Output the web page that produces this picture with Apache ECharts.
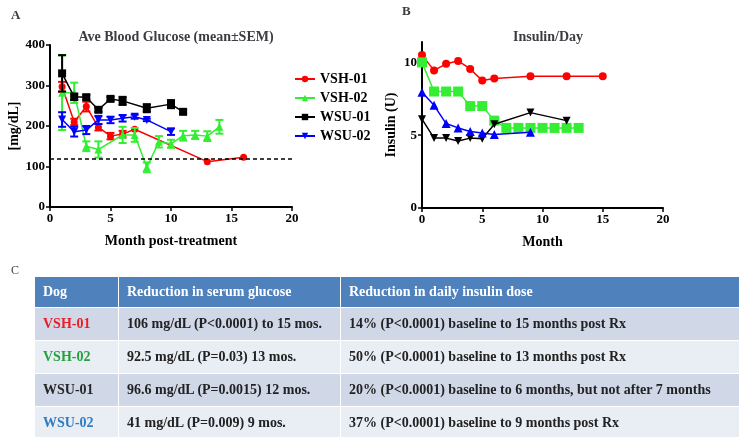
<!DOCTYPE html>
<html>
<head>
<meta charset="UTF-8">
<title>Blood glucose and insulin</title>
<script src="https://cdn.jsdelivr.net/npm/echarts@6/dist/echarts.min.js"></script>
<style>
    body { margin: 0; background: #fff; }
    #wrap { position: relative; width: 740px; height: 437px; overflow: hidden; }
    #chart { position: absolute; left: 0; top: 0; width: 740px; height: 437px; }
    #tbl {
        position: absolute; left: 34px; top: 276px; width: 706px;
        border-collapse: collapse; table-layout: fixed;
        font-family: 'Liberation Serif', 'Times New Roman', serif;
        font-weight: bold; font-size: 14px; color: #222;
    }
    #tbl th, #tbl td { border: 1px solid #fff; padding: 0 0 0 8px; text-align: left; white-space: nowrap; }
    #tbl th { background: #4f81bd; color: #fff; height: 30px; font-weight: bold; }
    #tbl td { height: 32px; }
    #tbl tr.dark td { background: #d0d8e8; }
    #tbl tr.light td { background: #e9edf4; }
</style>
</head>
<body>
<div id="wrap">
    <div id="chart"></div>
    <table id="tbl"></table>
</div>
<script>
    // ---- panel A: blood glucose (mean ± SEM) ----
    const vsh01Months = [1, 2, 3, 4, 5, 6, 7, 13, 16];
    const vsh01Glucose = [297, 210, 248, 197, 175, 180, 192, 112, 123];
    const vsh01Sem = [12, 8, 12, 8, 8, 8, 0, 0, 0];

    const vsh02Months = [1, 2, 3, 4, 6, 7, 8, 9, 10, 11, 12, 13, 14];
    const vsh02Glucose = [282, 282, 150, 142, 178, 178, 98, 161, 156, 176, 178, 175, 198];
    const vsh02Sem = [92, 25, 12, 20, 20, 17, 12, 14, 10, 12, 10, 12, 17];

    const wsu01Months = [1, 2, 3, 4, 5, 6, 8, 10, 11];
    const wsu01Glucose = [330, 272, 271, 240, 267, 262, 244, 254, 235];
    const wsu01Sem = [45, 8, 6, 5, 5, 10, 10, 10, 4];

    const wsu02Months = [1, 2, 3, 4, 5, 6, 7, 8, 10];
    const wsu02Glucose = [216, 186, 190, 215, 215, 219, 223, 215, 186];
    const wsu02Sem = [18, 12, 10, 10, 8, 8, 5, 3, 8];

    const targetGlucose = 120;

    // ---- panel B: insulin per day ----
    const vsh01InsMonths = [0, 1, 2, 3, 4, 5, 6, 9, 12, 15];
    const vsh01Insulin = [10.5, 9.45, 9.9, 10.1, 9.55, 8.75, 8.9, 9.05, 9.05, 9.05];
    const vsh02InsMonths = [0, 1, 2, 3, 4, 5, 6, 7, 8, 9, 10, 11, 12, 13];
    const vsh02Insulin = [10, 8, 8, 8, 7, 7, 6, 5.5, 5.5, 5.5, 5.5, 5.5, 5.5, 5.5];
    const wsu01InsMonths = [0, 1, 2, 3, 4, 5, 6, 9, 12];
    const wsu01Insulin = [6.1, 4.8, 4.8, 4.6, 4.8, 4.75, 5.75, 6.55, 6.0];
    const wsu02InsMonths = [0, 1, 2, 3, 4, 5, 6, 9];
    const wsu02Insulin = [7.95, 7.05, 5.8, 5.5, 5.25, 5.15, 5.05, 5.2];

    const dogNames = ['VSH-01', 'VSH-02', 'WSU-01', 'WSU-02'];
    const insulinTicks = [0, 5, 10];

    // ---- panel C: table ----
    const tableHeader = ['Dog', 'Reduction in serum glucose', 'Reduction in daily insulin dose'];
    const glucoseReduction = [
        '106 mg/dL (P<0.0001) to 15 mos.',
        '92.5 mg/dL (P=0.03) 13 mos.',
        '96.6 mg/dL (P=0.0015) 12 mos.',
        '41 mg/dL (P=0.009) 9 mos.'
    ];
    const insulinReduction = [
        '14% (P<0.0001) baseline to 15 months post Rx',
        '50% (P<0.0001) baseline to 13 months post Rx',
        '20% (P<0.0001) baseline to 6 months, but not after 7 months',
        '37% (P<0.0001) baseline to 9 months post Rx'
    ];

    const lineColors = ['#ff0000', '#33ee33', '#000000', '#0000ff'];
    const tableNameColors = ['#ea1c24', '#23a23a', '#262626', '#2f7dc1'];

    const FONT = "'Liberation Serif', 'Times New Roman', serif";

    function pairs(xs, ys) { return xs.map((x, i) => [x, ys[i]]); }
    function errs(xs, ys, sem) {
        return xs.map((x, i) => [x, ys[i] - sem[i], ys[i] + sem[i]]).filter((d, i) => sem[i] > 0);
    }

    function errRender(params, api) {
        const x = api.value(0);
        const top = api.coord([x, api.value(2)]);
        const bot = api.coord([x, api.value(1)]);
        const w = 4;
        const style = { stroke: api.visual('color'), lineWidth: 2 };
        return {
            type: 'group',
            children: [
                { type: 'line', shape: { x1: top[0], y1: top[1], x2: bot[0], y2: bot[1] }, style: style },
                { type: 'line', shape: { x1: top[0] - w, y1: top[1], x2: top[0] + w, y2: top[1] }, style: style },
                { type: 'line', shape: { x1: bot[0] - w, y1: bot[1], x2: bot[0] + w, y2: bot[1] }, style: style }
            ]
        };
    }

    const glucoseSets = [
        [vsh01Months, vsh01Glucose, vsh01Sem, 'circle', 0, 7],
        [vsh02Months, vsh02Glucose, vsh02Sem, 'triangle', 0, 8],
        [wsu01Months, wsu01Glucose, wsu01Sem, 'rect', 0, 8],
        [wsu02Months, wsu02Glucose, wsu02Sem, 'triangle', 180, 8]
    ];
    const insulinSets = [
        [vsh01InsMonths, vsh01Insulin, 'circle', 0, 8],
        [vsh02InsMonths, vsh02Insulin, 'rect', 0, 10],
        [wsu01InsMonths, wsu01Insulin, 'triangle', 180, 8],
        [wsu02InsMonths, wsu02Insulin, 'triangle', 0, 9]
    ];

    const series = [];
    glucoseSets.forEach((s, i) => {
        series.push({
            name: dogNames[i] + ' SEM', type: 'custom', xAxisIndex: 0, yAxisIndex: 0,
            itemStyle: { color: lineColors[i] }, renderItem: errRender,
            data: errs(s[0], s[1], s[2]), z: 2 + i
        });
        series.push({
            name: dogNames[i], type: 'line', xAxisIndex: 0, yAxisIndex: 0,
            data: pairs(s[0], s[1]), symbol: s[3], symbolRotate: s[4], symbolSize: s[5],
            itemStyle: { color: lineColors[i] }, lineStyle: { color: lineColors[i], width: 1.5 },
            z: 2 + i
        });
    });
    // dashed reference line at target glucose
    series[1].markLine = {
        silent: true, symbol: 'none', label: { show: false },
        lineStyle: { color: '#000', type: [4, 3], width: 1.5 },
        data: [{ yAxis: targetGlucose }]
    };
    insulinSets.forEach((s, i) => {
        series.push({
            name: dogNames[i] + ' insulin', type: 'line', xAxisIndex: 1, yAxisIndex: 1,
            data: pairs(s[0], s[1]), symbol: s[2], symbolRotate: s[3], symbolSize: s[4],
            itemStyle: { color: lineColors[i] }, lineStyle: { color: lineColors[i], width: 1.5 },
            z: 2 + i
        });
    });

    const axisCommon = {
        axisLine: { show: true, onZero: false, lineStyle: { color: '#000', width: 2 } },
        axisTick: { show: true, length: 4, lineStyle: { color: '#000', width: 1.5 } },
        axisLabel: { color: '#000', fontFamily: FONT, fontWeight: 'bold', fontSize: 13, margin: 5 },
        splitLine: { show: false },
        nameTextStyle: { color: '#000', fontFamily: FONT, fontWeight: 'bold', fontSize: 14 }
    };

    const chart = echarts.init(document.getElementById('chart'));
    chart.setOption({
        animation: false,
        title: [
            { text: 'A', left: 6, top: 4, textStyle: { fontFamily: FONT, fontSize: 13, fontWeight: 'bold' } },
            { text: 'Ave Blood Glucose (mean±SEM)', left: 171, top: 25, textAlign: 'center',
              textStyle: { fontFamily: FONT, fontSize: 14, fontWeight: 'bold' } },
            { text: 'B', left: 397, top: 0, textStyle: { fontFamily: FONT, fontSize: 13, fontWeight: 'bold' } },
            { text: 'Insulin/Day', left: 543, top: 25, textAlign: 'center',
              textStyle: { fontFamily: FONT, fontSize: 14, fontWeight: 'bold' } },
            { text: 'C', left: 6, top: 260, textStyle: { fontFamily: FONT, fontSize: 12, fontWeight: 'normal' } }
        ],
        legend: {
            data: dogNames, orient: 'vertical', left: 289, top: 67,
            itemWidth: 20, itemHeight: 8, itemGap: 5,
            textStyle: { fontFamily: FONT, fontWeight: 'bold', fontSize: 14, color: '#000' }
        },
        grid: [
            { left: 50, right: 448, top: 45, bottom: 230 },
            { left: 422, right: 77, top: 42, bottom: 229 }
        ],
        xAxis: [
            Object.assign({}, axisCommon, {
                type: 'value', gridIndex: 0, min: 0, max: 20, interval: 5,
                name: 'Month post-treatment', nameLocation: 'middle', nameGap: 27
            }),
            Object.assign({}, axisCommon, {
                type: 'value', gridIndex: 1, min: 0, max: 20, interval: 5,
                name: 'Month', nameLocation: 'middle', nameGap: 27
            })
        ],
        yAxis: [
            Object.assign({}, axisCommon, {
                type: 'value', gridIndex: 0, min: 0, max: 400, interval: 100,
                name: '[mg/dL]', nameLocation: 'middle', nameGap: 27
            }),
            Object.assign({}, axisCommon, {
                type: 'value', gridIndex: 1, min: 0, max: 11.4,
                name: 'Insulin (U)', nameLocation: 'middle', nameGap: 24,
                axisTick: Object.assign({}, axisCommon.axisTick, { customValues: insulinTicks }),
                axisLabel: Object.assign({}, axisCommon.axisLabel, { customValues: insulinTicks })
            })
        ],
        series: series
    });

    // table (panel C)
    const tbl = document.getElementById('tbl');
    let html = '<colgroup><col style="width:84px"><col style="width:222px"><col></colgroup>';
    html += '<tr>' + tableHeader.map(h => '<th>' + h + '</th>').join('') + '</tr>';
    dogNames.forEach((d, i) => {
        const esc = s => s.replace(/</g, '&lt;');
        html += '<tr class="' + (i % 2 === 0 ? 'dark' : 'light') + '">' +
            '<td style="color:' + tableNameColors[i] + '">' + d + '</td>' +
            '<td>' + esc(glucoseReduction[i]) + '</td>' +
            '<td>' + esc(insulinReduction[i]) + '</td></tr>';
    });
    tbl.innerHTML = html;
</script>
</body>
</html>
